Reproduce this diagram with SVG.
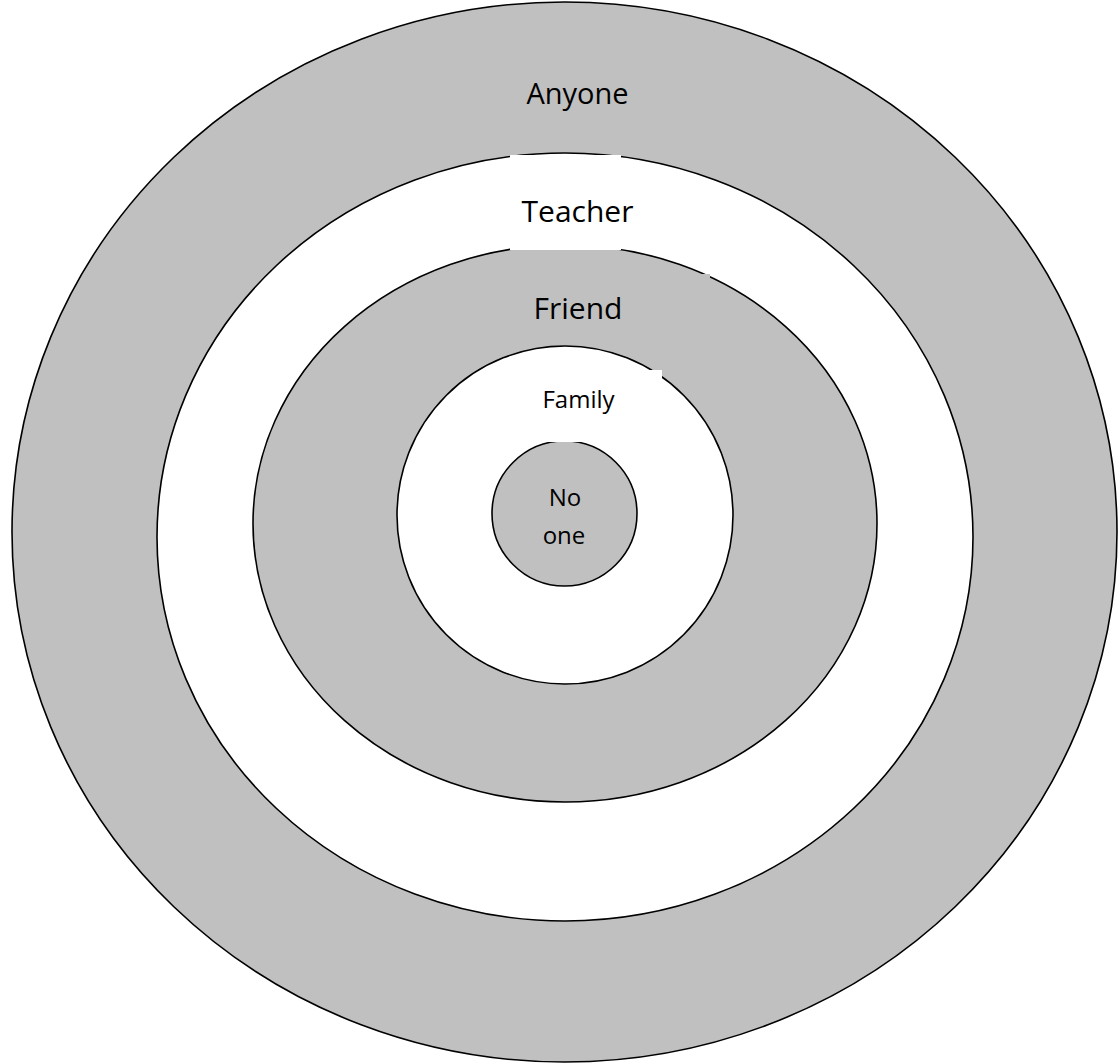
<svg xmlns="http://www.w3.org/2000/svg" width="1118" height="1064" viewBox="0 0 1118 1064">
<style>
.ring{stroke:#000;stroke-width:1.6}
.g{fill:#c0c0c0}
.w{fill:#fff}
.t{font-family:"Comic Sans MS","Open Sans","DejaVu Sans",sans-serif;fill:#000;text-anchor:middle}
</style>
<rect width="1118" height="1064" fill="#fff"/>
<g id="anyone">
<ellipse class="ring g" cx="564.5" cy="532" rx="552.5" ry="530"/>
<text class="t" x="577.5" y="104" font-size="29">Anyone</text>
</g>
<g id="teacher">
<ellipse class="ring w" cx="565" cy="537" rx="408" ry="384"/>
</g>
<g id="friend">
<ellipse class="ring g" cx="565" cy="523.5" rx="312" ry="278.5"/>
</g>
<g id="teacher-label">
<rect class="w" x="510" y="155" width="111" height="95"/>
<text class="t" x="577.5" y="222" font-size="30">Teacher</text>
</g>
<g id="family">
<ellipse class="ring w" cx="565" cy="515" rx="168" ry="169"/>
</g>
<g id="friend-label">
<rect class="g" x="495" y="274" width="215" height="60"/>
<text class="t" x="578" y="319" font-size="30">Friend</text>
</g>
<g id="noone">
<circle class="ring g" cx="564.5" cy="513.5" r="72.5"/>
</g>
<g id="family-label">
<rect class="w" x="492" y="370" width="170" height="72"/>
<text class="t" x="578.5" y="408" font-size="24">Family</text>
</g>
<g id="noone-label">
<text class="t" x="565" y="506" font-size="24">No</text>
<text class="t" x="564" y="544" font-size="24">one</text>
</g>
<g id="connectors"/>
</svg>
